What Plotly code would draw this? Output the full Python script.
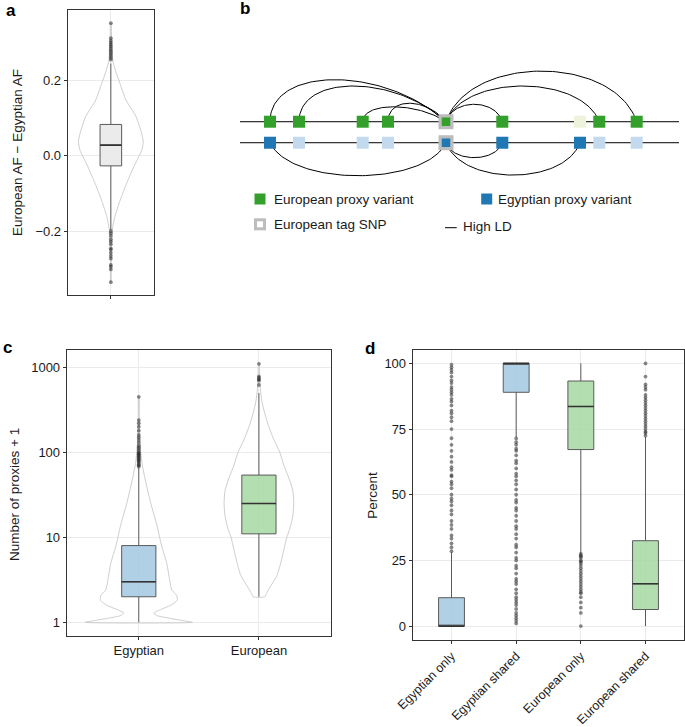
import numpy as np
import plotly.graph_objects as go

W, H = 685, 727
def X(p): return p / W
def Y(p): return 1 - p / H

FONT = "Liberation Sans, Arial, Helvetica, sans-serif"
TXT = "#1a1a1a"
TICK_SIZE = 13
TITLE_SIZE = 13.5

# ---------------- Panel a data ----------------
a_categories = ["all"]
a_lowerfence = [-0.197]
a_q1 = [-0.027]
a_median = [0.028]
a_q3 = [0.083]
a_upperfence = [0.245]
a_outliers = [0.352, 0.312, 0.305, 0.30, 0.295, 0.29, 0.285, 0.28, 0.275, 0.27, 0.265, 0.26, 0.255,
              -0.20, -0.206, -0.213, -0.222, -0.228, -0.235, -0.246, -0.25, -0.258, -0.266, -0.273,
              -0.29, -0.295, -0.302, -0.336]
a_violin_y = [0.352, 0.30, 0.25, 0.22, 0.193, 0.148, 0.104, 0.06, 0.037, 0.015, -0.029, -0.073,
              -0.118, -0.162, -0.197, -0.25, -0.30, -0.336]
a_violin_halfwidth = [0.004, 0.01, 0.03, 0.075, 0.125, 0.21, 0.35, 0.427, 0.45, 0.43, 0.32, 0.22,
                      0.13, 0.056, 0.02, 0.008, 0.005, 0.003]
a_yticks = [-0.2, 0.0, 0.2]
a_yticklabels = ["\u22120.2", "0.0", "0.2"]

# ---------------- Panel b data ----------------
b_positions = [30, 59, 122.7, 148, 206, 262.3, 340, 359.3, 396.7]
b_tag_index = 4
b_european_status = ["proxy", "proxy", "proxy", "proxy", "tag", "proxy", "none", "proxy", "proxy"]
b_egyptian_status = ["proxy", "none", "none", "none", "tag", "proxy", "proxy", "none", "none"]
b_european_links = [0, 1, 2, 3, 5, 7, 8]
b_european_link_height = [2.0, 1.7, 0.71, 0.88, 0.83, 1.7, 2.41]
b_egyptian_links = [0, 5, 6]
b_egyptian_link_height = [1.57, 0.71, 1.54]
b_legend_labels = ["European proxy variant", "Egyptian proxy variant", "European tag SNP", "High LD"]

# ---------------- Panel c data ----------------
c_categories = ["Egyptian", "European"]
c_lowerfence = [1, 2]
c_q1 = [2, 11]
c_median = [3, 25]
c_q3 = [8, 54]
c_upperfence = [66, 500]
c_egy_outliers = [68, 70, 72, 75, 78, 80, 83, 85, 88, 90, 93, 95, 98, 100, 105, 110, 115, 120,
                  130, 140, 150, 160, 180, 200, 220, 240, 450]
c_eur_outliers = [620, 700, 720, 750, 780, 1100]
c_egy_violin_log10 = [0, 0.02, 0.05, 0.08, 0.11, 0.15, 0.2, 0.26, 0.32, 0.38, 0.5, 0.7, 0.9,
                      1.15, 1.4, 1.67, 1.87, 2.15, 2.4, 2.65]
c_egy_violin_halfwidth = [0.447, 0.37, 0.25, 0.15, 0.125, 0.18, 0.265, 0.32, 0.315, 0.275, 0.257,
                          0.232, 0.19, 0.15, 0.10, 0.055, 0.027, 0.008, 0.004, 0.002]
c_eur_violin_log10 = [0.301, 0.35, 0.45, 0.55, 0.7, 0.85, 1.0, 1.1, 1.25, 1.4, 1.55, 1.7, 1.85,
                      2.0, 2.15, 2.3, 2.45, 2.6, 2.75, 2.9, 3.04]
c_eur_violin_halfwidth = [0.047, 0.066, 0.108, 0.15, 0.182, 0.207, 0.232, 0.257, 0.282, 0.29,
                          0.282, 0.249, 0.207, 0.174, 0.124, 0.083, 0.05, 0.025, 0.012, 0.006, 0.003]
c_yticks = [1, 10, 100, 1000]

# ---------------- Panel d data ----------------
d_categories = ["Egyptian only", "Egyptian shared", "European only", "European shared"]
d_lowerfence = [0, 71.8, 27.8, 0]
d_q1 = [0, 89, 67.2, 6.3]
d_median = [0, 100, 83.6, 16.1]
d_q3 = [10.8, 100, 93.3, 32.5]
d_upperfence = [28, 100, 100, 72]
d_outliers_egy_only = [99.5, 98.5, 97.5, 96.5, 95, 93.5, 92.5, 91, 90, 89, 88, 86.5, 85.5, 84, 82,
                       81, 79.5, 78, 75, 71.5, 69, 66.7, 64.5, 62.5, 60.5, 59.5, 57.5, 57, 55, 54,
                       52.5, 50, 48.5, 47.5, 46, 44, 42.5, 40, 38.5, 37, 34.5, 33.3, 31.5, 30, 28.5]
d_outliers_egy_shared = [71.4, 70, 69, 67.5, 66.7, 65, 63, 62, 60, 58, 57, 55.5, 54, 52, 50, 48,
                         47, 45, 44, 42, 40, 38, 37, 35, 33.3, 31, 30, 28, 26, 25, 23, 22, 20, 18,
                         17, 16, 14, 12.5, 11, 10, 9, 8, 6.5, 5, 4, 3, 2, 1]
d_outliers_eur_only = [27.5, 27, 26.5, 26, 25, 24.5, 24, 23, 22, 21, 20, 19, 18, 17, 16, 15, 14,
                       13, 12.5, 11, 9, 7, 5, 0]
d_outliers_eur_shared = [72.5, 73.5, 74, 75, 76, 77, 78, 79, 80, 81, 82, 83, 84, 85, 86, 87, 88,
                         90, 91, 92, 95, 100]
d_yticks = [0, 25, 50, 75, 100]

# ---------------- colours ----------------
GREEN = "#33a02c"
BLUE = "#1f78b4"
LIGHT_BLUE = "#c3d9ee"
PALE_GREEN = "#eef3dc"
TAG_GRAY = "#bdbdbd"
BOX_BLUE = "rgba(162,200,226,0.85)"
BOX_GREEN = "rgba(166,216,162,0.85)"
BOX_GRAY = "#ebebeb"
BOX_LINE = "#5a5a5a"
DOT = "rgba(40,40,40,0.55)"
VIOLIN = "#c8c8c8"

fig = go.Figure()

def add_violin(center, ys, half, xa, ya):
    ys = list(ys); half = list(half)
    xs = [center + h for h in half] + [center - h for h in half[::-1]] + [center + half[0]]
    yy = ys + ys[::-1] + [ys[0]]
    fig.add_trace(go.Scatter(x=xs, y=yy, mode="lines", xaxis=xa, yaxis=ya,
                             line=dict(color=VIOLIN, width=0.9, shape="spline", smoothing=0.6),
                             hoverinfo="skip", showlegend=False))

def add_box(pos, q1, med, q3, lo, hi, width, fill, xa, ya):
    fig.add_trace(go.Box(x=pos, q1=q1, median=med, q3=q3, lowerfence=lo, upperfence=hi,
                         width=width, fillcolor=fill, whiskerwidth=0, orientation="v",
                         line=dict(color=BOX_LINE, width=1), xaxis=xa, yaxis=ya,
                         showlegend=False, hoverinfo="skip"))
    mx, my = [], []
    for p, m in zip(pos, med):
        mx += [p - width / 2, p + width / 2, None]
        my += [m, m, None]
    fig.add_trace(go.Scatter(x=mx, y=my, mode="lines", line=dict(color="#333333", width=1.6),
                             xaxis=xa, yaxis=ya, showlegend=False, hoverinfo="skip"))

def add_dots(pos, vals, xa, ya):
    fig.add_trace(go.Scatter(x=[pos] * len(vals), y=vals, mode="markers", xaxis=xa, yaxis=ya,
                             marker=dict(size=3.8, color=DOT, line=dict(width=0)),
                             showlegend=False, hoverinfo="skip"))

# ---------------- Panel a ----------------
add_violin(0, a_violin_y, a_violin_halfwidth, "x", "y")
add_box([0], a_q1, a_median, a_q3, a_lowerfence, a_upperfence, 0.3, BOX_GRAY, "x", "y")
add_dots(0, a_outliers, "x", "y")

# ---------------- Panel c ----------------
add_violin(0, [10 ** v for v in c_egy_violin_log10], c_egy_violin_halfwidth, "x2", "y2")
add_violin(1, [10 ** v for v in c_eur_violin_log10], c_eur_violin_halfwidth, "x2", "y2")
add_box([0], c_q1[:1], c_median[:1], c_q3[:1], c_lowerfence[:1], c_upperfence[:1], 0.285, BOX_BLUE, "x2", "y2")
add_box([1], c_q1[1:], c_median[1:], c_q3[1:], c_lowerfence[1:], c_upperfence[1:], 0.285, BOX_GREEN, "x2", "y2")
add_dots(0, c_egy_outliers, "x2", "y2")
add_dots(1, c_eur_outliers, "x2", "y2")

# ---------------- Panel d ----------------
d_fill = [BOX_BLUE, BOX_BLUE, BOX_GREEN, BOX_GREEN]
for i in range(4):
    add_box([i], [d_q1[i]], [d_median[i]], [d_q3[i]], [d_lowerfence[i]], [d_upperfence[i]],
            0.4, d_fill[i], "x3", "y3")
for i, vals in enumerate([d_outliers_egy_only, d_outliers_egy_shared, d_outliers_eur_only,
                          d_outliers_eur_shared]):
    add_dots(i, vals, "x3", "y3")

# ---------------- Panel b ----------------
line_end = 439
for row in [1, 0]:
    fig.add_trace(go.Scatter(x=[0, line_end], y=[row, row], mode="lines", xaxis="x4", yaxis="y4",
                             line=dict(color="black", width=1), showlegend=False, hoverinfo="skip"))

t = np.linspace(0, 1, 80)
def arc(outer, tag, row, height, sign, a, b):
    x0, x3 = b_positions[outer], b_positions[tag]
    d = x3 - x0
    Hc = height / 0.75 * sign
    px = [x0, x0 + a * d, x0 + b * d, x3]
    py = [row, row + Hc, row + Hc, row]
    bx = ((1 - t) ** 3) * px[0] + 3 * ((1 - t) ** 2) * t * px[1] + 3 * (1 - t) * t ** 2 * px[2] + t ** 3 * px[3]
    by = ((1 - t) ** 3) * py[0] + 3 * ((1 - t) ** 2) * t * py[1] + 3 * (1 - t) * t ** 2 * py[2] + t ** 3 * py[3]
    return list(bx) + [None], list(by) + [None]

ax, ay = [], []
for idx, h in zip(b_european_links, b_european_link_height):
    if idx < b_tag_index:
        xs, ys = arc(idx, b_tag_index, 1, h, 1, 0.0, 0.65)
    else:
        xs, ys = arc(idx, b_tag_index, 1, h, 1, 0.12, 0.88)
    ax += xs; ay += ys
for idx, h in zip(b_egyptian_links, b_egyptian_link_height):
    xs, ys = arc(idx, b_tag_index, 0, h, -1, 0.12, 0.88)
    ax += xs; ay += ys
fig.add_trace(go.Scatter(x=ax, y=ay, mode="lines", xaxis="x4", yaxis="y4",
                         line=dict(color="black", width=1), showlegend=False, hoverinfo="skip"))

def status_color(status, pop):
    if status == "none":
        return PALE_GREEN if pop == "eur" else LIGHT_BLUE
    return GREEN if pop == "eur" else BLUE

for row, statuses, pop in [(1, b_european_status, "eur"), (0, b_egyptian_status, "egy")]:
    xs = [p for p, s in zip(b_positions, statuses) if s != "tag"]
    cs = [status_color(s, pop) for s in statuses if s != "tag"]
    fig.add_trace(go.Scatter(x=xs, y=[row] * len(xs), mode="markers", xaxis="x4", yaxis="y4",
                             marker=dict(symbol="square", size=12, color=cs, line=dict(width=0)),
                             showlegend=False, hoverinfo="skip"))
    tx = [p for p, s in zip(b_positions, statuses) if s == "tag"]
    fig.add_trace(go.Scatter(x=tx, y=[row] * len(tx), mode="markers", xaxis="x4", yaxis="y4",
                             marker=dict(symbol="square", size=15, color=TAG_GRAY, line=dict(width=0)),
                             showlegend=False, hoverinfo="skip"))
    fig.add_trace(go.Scatter(x=tx, y=[row] * len(tx), mode="markers", xaxis="x4", yaxis="y4",
                             marker=dict(symbol="square", size=8.5, color=GREEN if pop == "eur" else BLUE,
                                         line=dict(width=0)),
                             showlegend=False, hoverinfo="skip"))

# ---------------- layout ----------------
def axis_style(**kw):
    d = dict(showline=True, linecolor="#333333", linewidth=1, mirror=True, ticks="outside",
             ticklen=3, tickcolor="#333333", showgrid=True, gridcolor="#ebebeb", gridwidth=1,
             zeroline=False, tickfont=dict(family=FONT, size=TICK_SIZE, color=TXT),
             fixedrange=True, automargin=False)
    d.update(kw)
    return d

layout = dict(
    template="none",
    width=W, height=H, margin=dict(l=0, r=0, t=0, b=0, pad=0, autoexpand=False),
    paper_bgcolor="white", plot_bgcolor="white", showlegend=False,
    font=dict(family=FONT, size=TICK_SIZE, color=TXT),
    xaxis=axis_style(domain=[X(67.7), X(154)], anchor="y", range=[-0.6, 0.6],
                     tickvals=[0], ticktext=[""]),
    yaxis=axis_style(domain=[Y(295), Y(10)], anchor="x", range=[-0.37, 0.387],
                     tickvals=a_yticks, ticktext=a_yticklabels),
    xaxis2=axis_style(domain=[X(66.7), X(331)], anchor="y2", range=[-0.6, 1.6],
                      tickvals=[0, 1], ticktext=c_categories),
    yaxis2=axis_style(domain=[Y(635.7), Y(350)], anchor="x2", type="log", range=[-0.157, 3.204],
                      tickvals=c_yticks, ticktext=[str(v) for v in c_yticks]),
    xaxis3=axis_style(domain=[X(412.7), X(684.3)], anchor="y3", range=[-0.6, 3.6],
                      tickvals=[0, 1, 2, 3], ticktext=d_categories, tickangle=-45,
                      tickfont=dict(family=FONT, size=12.5, color=TXT)),
    yaxis3=axis_style(domain=[Y(640), Y(350)], anchor="x3", range=[-5.3, 105.1],
                      tickvals=d_yticks, ticktext=[str(v) for v in d_yticks]),
    xaxis4=dict(domain=[X(240), X(679)], anchor="y4", range=[0, line_end], visible=False,
                fixedrange=True, automargin=False),
    yaxis4=dict(domain=[Y(240), Y(40)], anchor="x4", range=[-4.63, 4.89], visible=False,
                fixedrange=True, automargin=False),
)

ann = []
def label(text, x, y, size=17, bold=True):
    ann.append(dict(text=f"<b>{text}</b>" if bold else text, x=X(x), y=Y(y), xref="paper", yref="paper",
                    showarrow=False, xanchor="center", yanchor="middle",
                    font=dict(family=FONT, size=size, color="black")))
label("a", 10.5, 10)
label("b", 245, 8)
label("c", 7, 348)
label("d", 369.5, 348.5)

def ytitle(text, x, y):
    ann.append(dict(text=text, x=X(x), y=Y(y), xref="paper", yref="paper", showarrow=False,
                    textangle=-90, xanchor="center", yanchor="middle",
                    font=dict(family=FONT, size=TITLE_SIZE, color=TXT)))
ytitle("European AF \u2212 Egyptian AF", 17, 153)
ytitle("Number of proxies + 1", 14, 495)
ytitle("Percent", 371.7, 495)

def legtext(text, x, y):
    ann.append(dict(text=text, x=X(x), y=Y(y), xref="paper", yref="paper", showarrow=False,
                    xanchor="left", yanchor="middle",
                    font=dict(family=FONT, size=TITLE_SIZE, color=TXT)))
legtext(b_legend_labels[0], 272, 199.3)
legtext(b_legend_labels[1], 496, 199.3)
legtext(b_legend_labels[2], 272, 224.3)
legtext(b_legend_labels[3], 461, 226)

shapes = []
def sq(cx, cy, s, color):
    shapes.append(dict(type="rect", xref="paper", yref="paper", x0=X(cx - s / 2), x1=X(cx + s / 2),
                       y0=Y(cy + s / 2), y1=Y(cy - s / 2), fillcolor=color, line=dict(width=0)))
sq(260, 199, 11, GREEN)
sq(486.7, 199, 11, BLUE)
sq(260, 224.3, 12, TAG_GRAY)
sq(260, 224.3, 6, "white")
shapes.append(dict(type="line", xref="paper", yref="paper", x0=X(445), x1=X(456.7), y0=Y(227.7),
                   y1=Y(227.7), line=dict(color="black", width=1)))

layout["annotations"] = ann
layout["shapes"] = shapes
fig.update_layout(**layout)
fig.write_html("out.html", config={"displayModeBar": False},
               post_script="document.body.style.margin='0';document.body.style.overflow='hidden';")
